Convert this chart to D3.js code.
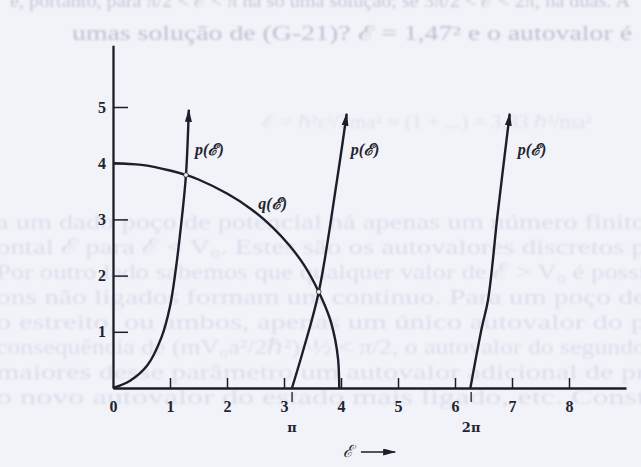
<!DOCTYPE html>
<html>
<head>
<meta charset="utf-8">
<script src="https://cdn.jsdelivr.net/npm/d3@7"></script>
<style>
  html, body { margin: 0; padding: 0; background: #f2f3f8; }
  svg { display: block; }
</style>
</head>
<body>
<svg id="chart" width="641" height="467"></svg>
<script>
// ---- data -------------------------------------------------------------
const xTickValues = [0, 1, 2, 3, 4, 5, 6, 7, 8];
const yTickValues = [1, 2, 3, 4, 5];
const piMarks = [3.1416, 6.2832];
const piLabels = ["π", "2π"];

// q(ℰ): quarter circle of radius 4
const qCurve = [
  [0, 4.0], [0.5, 3.97], [1.0, 3.87], [1.28, 3.79], [1.5, 3.71], [2.0, 3.46],
  [2.4, 3.2], [2.8, 2.86], [3.1, 2.53], [3.35, 2.19], [3.61, 1.71],
  [3.8, 1.25], [3.9, 0.85], [3.95, 0.5], [3.97, 0]
];
// branches of p(ℰ)
const pBranch1 = [
  [0, 0], [0.30, 0.13], [0.60, 0.40], [0.85, 0.90], [1.00, 1.45],
  [1.10, 2.10], [1.20, 2.95], [1.28, 3.79], [1.33, 4.95]
];
const pBranch2 = [
  [3.14, 0], [3.34, 0.68], [3.61, 1.71], [3.93, 3.70], [4.10, 4.88]
];
const pBranch3 = [
  [6.27, 0], [6.47, 1.07], [6.58, 1.57], [6.75, 3.11], [6.96, 4.88]
];
const crossings = [[1.28, 3.79], [3.61, 1.71]];

const curveLabelText = ["p(ℰ)", "p(ℰ)", "p(ℰ)", "q(ℰ)"];
const curveLabelX = [1.44, 4.17, 7.10, 2.55];
const curveLabelY = [4.23, 4.23, 4.23, 3.27];

// text of the printed page showing faintly through the paper
const pageLines = [
  "a um dado poço de potencial há apenas um número finito",
  "ontal ℰ para ℰ < V₀. Estes são os autovalores discretos p",
  "Por outro lado sabemos que qualquer valor de ℰ > V₀ é possí",
  "ons não ligados formam um contínuo. Para um poço de",
  "o estreito, ou ambos, apenas um único autovalor do p",
  "consequência de (mV₀a²/2ℏ²)^½ < π/2, o autovalor do segundo",
  "maiores desse parâmetro um autovalor adicional de pr",
  "o novo autovalor do estado mais ligado, etc. Const"
];
const pageLineY = [222, 247, 272, 297, 322, 347, 372, 397];
const headLine = "umas solução de (G-21)? ℰ = 1,47² e o autovalor é";

// ---- drawing ----------------------------------------------------------
const svg = d3.select("#chart");
const ink = "#1d1d2b";

const x = d3.scaleLinear().domain([0, 9]).range([113, 626]);
const y = d3.scaleLinear().domain([0, 5]).range([388, 107]);
const yTop = 6.1;

const defs = svg.append("defs");
defs.append("filter").attr("id", "soft")
  .append("feGaussianBlur").attr("stdDeviation", 1.0);
defs.append("marker")
  .attr("id", "head")
  .attr("viewBox", "0 0 13 7")
  .attr("refX", 12).attr("refY", 3.5)
  .attr("markerWidth", 13).attr("markerHeight", 7)
  .attr("markerUnits", "userSpaceOnUse")
  .attr("orient", "auto")
  .append("path").attr("d", "M0,0 L13,3.5 L0,7 Z").attr("fill", ink);

svg.append("rect").attr("width", 641).attr("height", 467).attr("fill", "#f2f3f8");

// faint page text
const bg = svg.append("g").attr("filter", "url(#soft)")
  .attr("font-family", "Liberation Serif, serif");
bg.append("text").attr("x", 10).attr("y", 7).attr("font-size", 19)
  .attr("fill", "#c3c6d8").attr("textLength", 620).attr("lengthAdjust", "spacingAndGlyphs")
  .text("e, portanto, para π/2 < ℰ < π há só uma solução; se 3π/2 < ℰ < 2π, há duas. A");
bg.append("text").attr("x", 72).attr("y", 40).attr("font-size", 20)
  .attr("fill", "#bcc0d4").attr("textLength", 560).attr("lengthAdjust", "spacingAndGlyphs")
  .text(headLine);
bg.append("text").attr("x", 262).attr("y", 128).attr("font-size", 18)
  .attr("fill", "#e0e2ee").attr("textLength", 330).attr("lengthAdjust", "spacingAndGlyphs")
  .text("ℰ = ℏ²ε²/2ma²  ≈  (1 + ...)  = 3,83 ℏ²/ma²");
bg.selectAll("text.page").data(pageLines).join("text")
  .attr("class", "page")
  .attr("x", -4)
  .attr("y", (d, i) => pageLineY[i] + 7)
  .attr("font-size", 22)
  .attr("fill", "#dadded")
  .attr("textLength", 650)
  .attr("lengthAdjust", "spacingAndGlyphs")
  .text(d => d);

// axes
const xAxis = d3.axisBottom(x).tickValues(xTickValues)
  .tickSizeInner(-10).tickSizeOuter(0).tickPadding(13)
  .tickFormat(d3.format("d"));
const gx = svg.append("g").attr("transform", `translate(0,${y(0)})`).call(xAxis);

const yAxisScale = d3.scaleLinear().domain([0, yTop]).range([y(0), y(yTop)]);
const yAxis = d3.axisLeft(yAxisScale).tickValues(yTickValues)
  .tickSizeInner(-15).tickSizeOuter(0).tickPadding(7)
  .tickFormat(d3.format("d"));
const gy = svg.append("g").attr("transform", `translate(${x(0)},0)`).call(yAxis);

[gx, gy].forEach(g => {
  g.select(".domain").attr("stroke", ink).attr("stroke-width", 2.3);
  g.selectAll(".tick line").attr("stroke", ink).attr("stroke-width", 1.5);
  g.selectAll(".tick text")
    .attr("fill", "#24242f")
    .attr("font-family", "Liberation Serif, serif")
    .attr("font-weight", "bold")
    .attr("font-size", 16);
});
gx.selectAll(".tick").filter(d => d === 0).select("line").remove();

// π and 2π marks below the axis
piMarks.forEach((v, i) => {
  svg.append("line")
    .attr("x1", x(v)).attr("x2", x(v))
    .attr("y1", y(0) + 4).attr("y2", y(0) + 14)
    .attr("stroke", ink).attr("stroke-width", 1.3);
  svg.append("text")
    .attr("x", x(v)).attr("y", y(0) + 44)
    .attr("text-anchor", "middle")
    .attr("font-family", "DejaVu Serif, serif")
    .attr("font-weight", "bold")
    .attr("font-size", 13)
    .attr("fill", "#24242f")
    .text(piLabels[i]);
});

// ℰ axis caption with arrow
svg.append("text")
  .attr("x", x(4.13)).attr("y", y(0) + 69)
  .attr("text-anchor", "middle")
  .attr("font-family", "DejaVu Serif, serif")
  .attr("font-style", "italic")
  .attr("font-size", 17)
  .attr("fill", "#24242f")
  .text("ℰ");
svg.append("line")
  .attr("x1", x(4.35)).attr("x2", x(4.95))
  .attr("y1", y(0) + 64).attr("y2", y(0) + 64)
  .attr("stroke", ink).attr("stroke-width", 1.4)
  .attr("marker-end", "url(#head)");

// curves
const line = d3.line().x(d => x(d[0])).y(d => y(d[1])).curve(d3.curveCatmullRom.alpha(0.5));

svg.append("path").datum(qCurve)
  .attr("d", line).attr("fill", "none")
  .attr("stroke", ink).attr("stroke-width", 2.4);

[pBranch1, pBranch2, pBranch3].forEach(b => {
  svg.append("path").datum(b)
    .attr("d", line).attr("fill", "none")
    .attr("stroke", ink).attr("stroke-width", 2.4)
    .attr("marker-end", "url(#head)");
});

svg.selectAll("circle.cross").data(crossings).join("circle")
  .attr("class", "cross")
  .attr("cx", d => x(d[0])).attr("cy", d => y(d[1]))
  .attr("r", 2.3)
  .attr("fill", "#f6f6fa")
  .attr("stroke", ink).attr("stroke-width", 0.8);

// curve labels
svg.selectAll("text.curve").data(curveLabelText).join("text")
  .attr("class", "curve")
  .attr("x", (d, i) => x(curveLabelX[i]))
  .attr("y", (d, i) => y(curveLabelY[i]) + 5)
  .attr("font-family", "Liberation Serif, DejaVu Serif, serif")
  .attr("font-style", "italic")
  .attr("font-weight", "bold")
  .attr("font-size", 16)
  .attr("fill", "#24242f")
  .text(d => d);
</script>
</body>
</html>
